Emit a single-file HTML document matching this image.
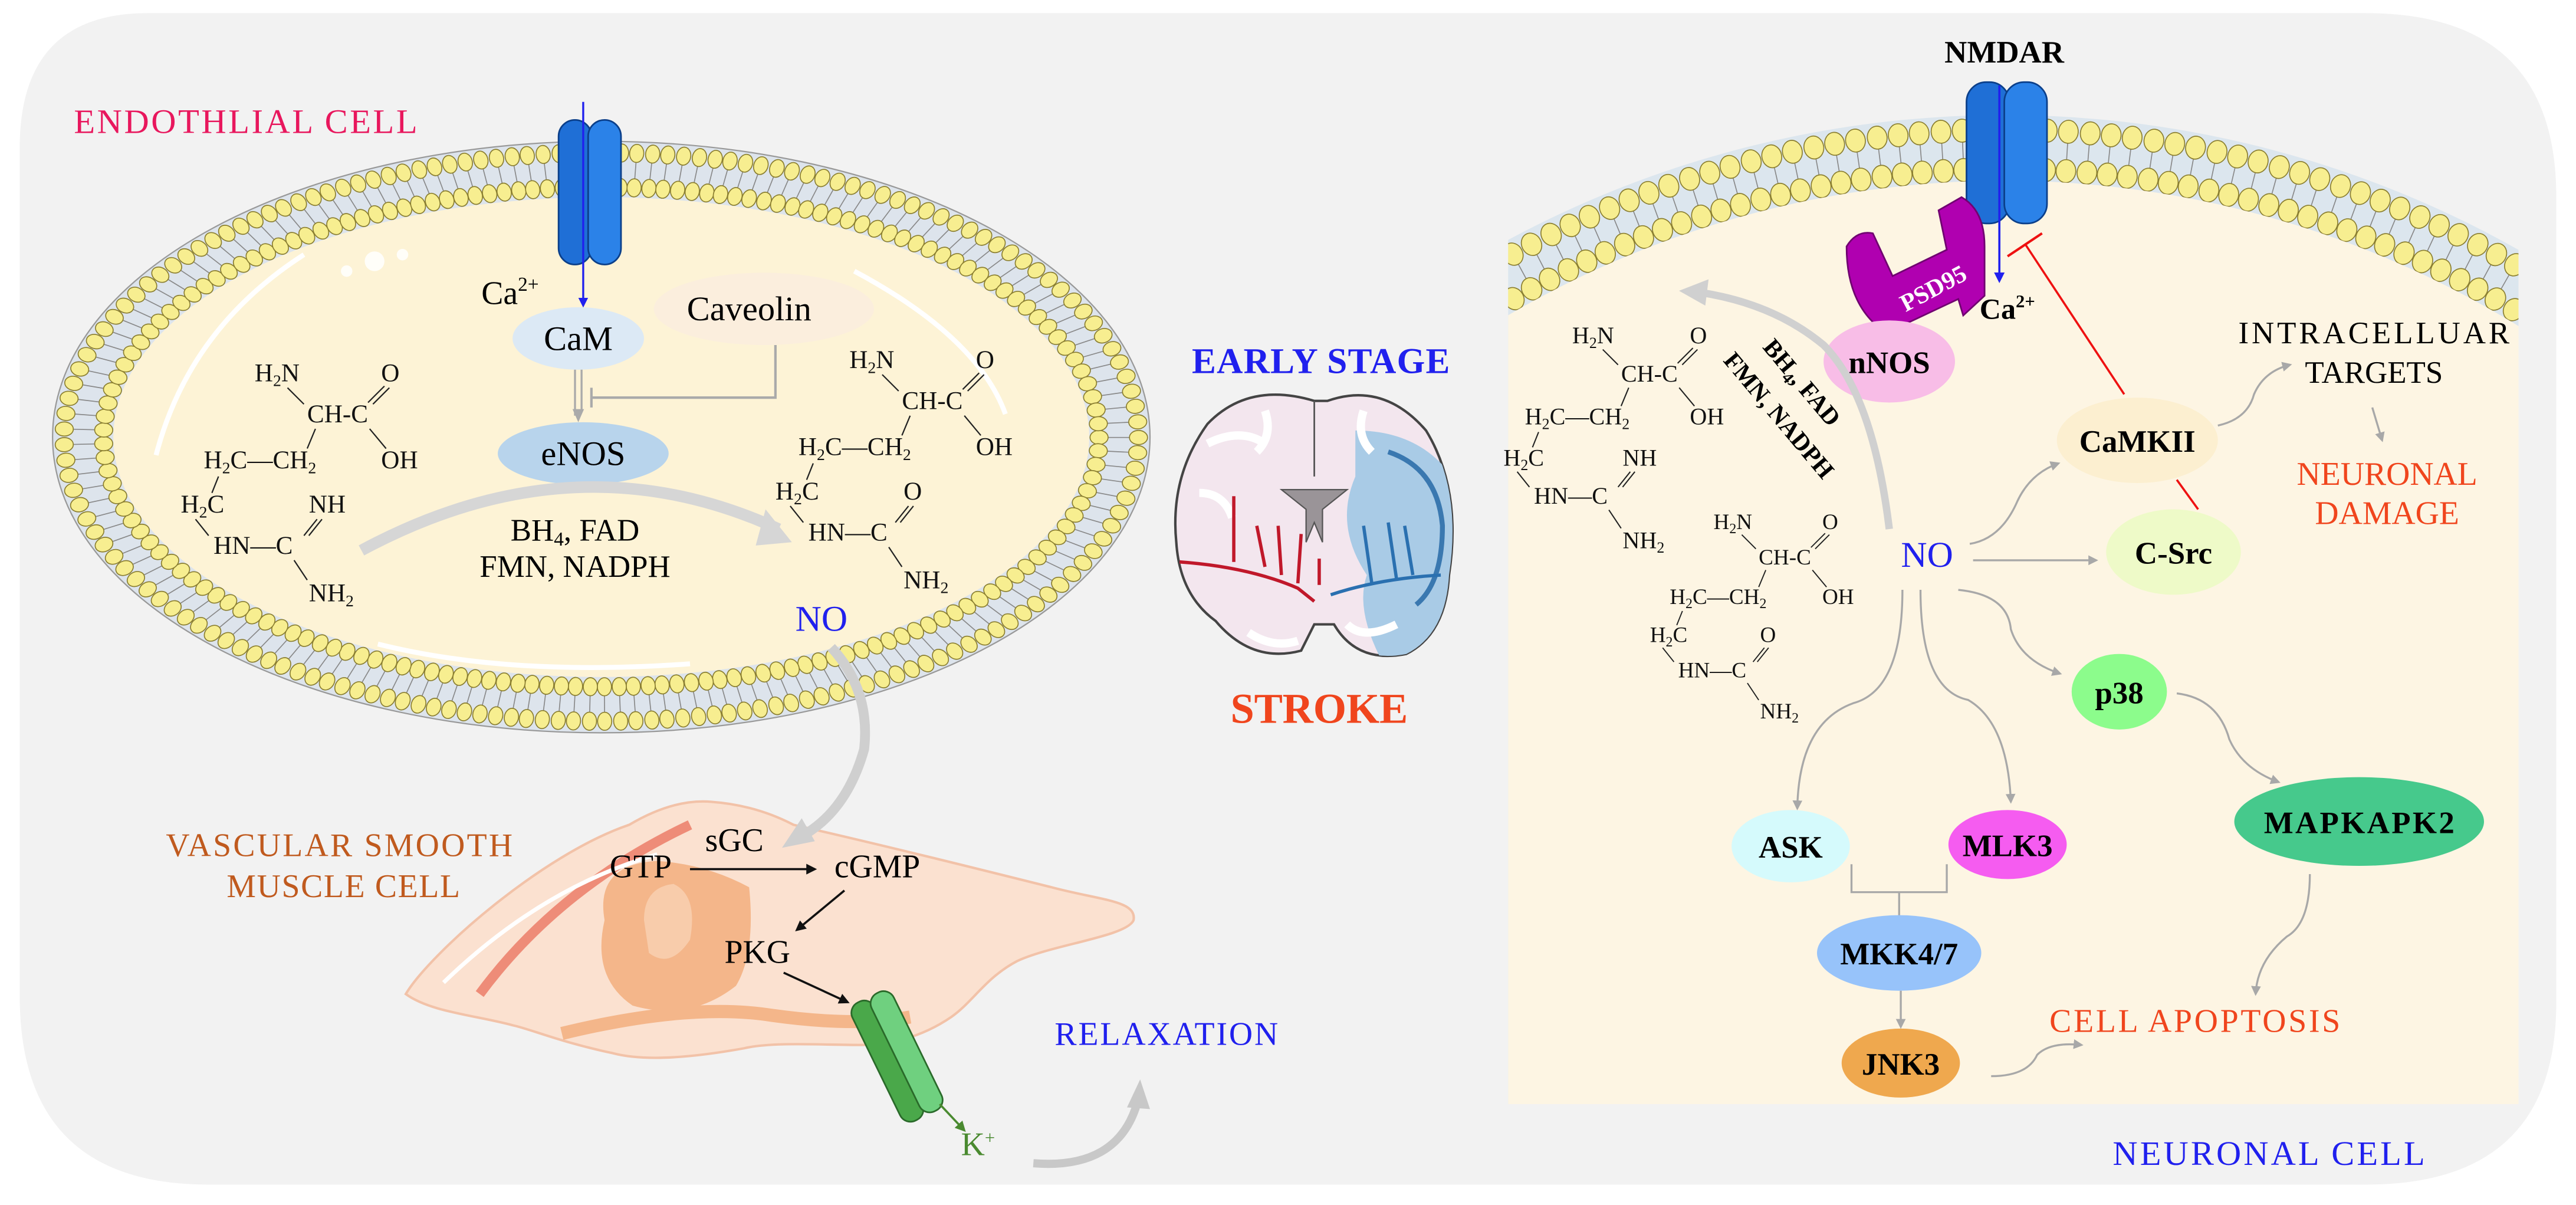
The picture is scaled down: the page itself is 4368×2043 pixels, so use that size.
<!DOCTYPE html>
<html><head><meta charset="utf-8">
<style>
html,body{margin:0;padding:0;background:#fff;overflow:hidden;width:4368px;height:2043px;}
svg{display:block;}
text{font-family:"Liberation Serif",serif;}
.b{font-weight:bold;}
.ch{font-size:15.5px;fill:#111;}
.bd{stroke:#222;stroke-width:0.8;}
</style></head>
<body>
<svg id="s" width="4368" height="2043" viewBox="0 0 1568 733.4" preserveAspectRatio="none" xmlns="http://www.w3.org/2000/svg">
<defs>
<marker id="ga" viewBox="0 0 10 10" refX="8" refY="5" markerWidth="5" markerHeight="5" orient="auto"><path d="M0,0L10,5L0,10z" fill="#a8a8a8"/></marker>
<marker id="ka" viewBox="0 0 10 10" refX="8" refY="5" markerWidth="5" markerHeight="5" orient="auto"><path d="M0,0L10,5L0,10z" fill="#111"/></marker>
<marker id="ba" viewBox="0 0 10 10" refX="8" refY="5" markerWidth="5" markerHeight="5" orient="auto"><path d="M0,0L10,5L0,10z" fill="#2020ee"/></marker>
<marker id="gra" viewBox="0 0 10 10" refX="8" refY="5" markerWidth="5" markerHeight="5" orient="auto"><path d="M0,0L10,5L0,10z" fill="#4a8a30"/></marker>
<clipPath id="nc"><rect x="918" y="0" width="615" height="672"/></clipPath>
<clipPath id="brc"><path id="brp" d="M800,244 Q760,232 735,258 Q712,290 716,330 Q718,362 740,378 Q762,404 792,396 L800,380 L812,380 Q826,404 856,398 Q880,386 882,350 Q890,298 868,262 Q842,232 808,244z"/></clipPath>
<g id="top">
<text class="ch" x="0" y="0">H<tspan font-size="10" dy="3">2</tspan><tspan dy="-3">N</tspan></text>
<text class="ch" x="77" y="0">O</text>
<text class="ch" x="32" y="25">CH-C</text>
<text class="ch" x="-31" y="53">H<tspan font-size="10" dy="3">2</tspan><tspan dy="-3">C—CH</tspan><tspan font-size="10" dy="3">2</tspan></text>
<text class="ch" x="77" y="53">OH</text>
<line class="bd" x1="20" y1="4" x2="30" y2="14"/>
<line class="bd" x1="82" y1="4" x2="72" y2="14"/>
<line class="bd" x1="79" y1="3" x2="69" y2="13"/>
<line class="bd" x1="70" y1="29" x2="80" y2="41"/>
<line class="bd" x1="37" y1="29" x2="32" y2="41"/>
<line class="bd" x1="-22" y1="58" x2="-26" y2="68"/>
</g>
<g id="arg">
<use href="#top"/>
<text class="ch" x="-45" y="80">H<tspan font-size="10" dy="3">2</tspan><tspan dy="-3">C</tspan></text>
<text class="ch" x="33" y="80">NH</text>
<text class="ch" x="-25" y="105">HN—C</text>
<text class="ch" x="33" y="134">NH<tspan font-size="10" dy="3">2</tspan></text>
<line class="bd" x1="-36" y1="84" x2="-28" y2="94"/>
<line class="bd" x1="38" y1="84" x2="30" y2="94"/>
<line class="bd" x1="41" y1="84" x2="33" y2="94"/>
<line class="bd" x1="24" y1="109" x2="32" y2="121"/>
</g>
<g id="cit">
<use href="#top"/>
<text class="ch" x="-45" y="80">H<tspan font-size="10" dy="3">2</tspan><tspan dy="-3">C</tspan></text>
<text class="ch" x="33" y="80">O</text>
<text class="ch" x="-25" y="105">HN—C</text>
<text class="ch" x="33" y="134">NH<tspan font-size="10" dy="3">2</tspan></text>
<line class="bd" x1="-36" y1="84" x2="-28" y2="94"/>
<line class="bd" x1="36" y1="84" x2="28" y2="94"/>
<line class="bd" x1="39" y1="84" x2="31" y2="94"/>
<line class="bd" x1="24" y1="109" x2="32" y2="121"/>
</g>
</defs>
<rect x="0" y="0" width="1568" height="733.4" fill="#fff"/>
<path d="M90,8 H1440 Q1556,8 1556,120 V610 Q1556,721 1440,721 H127 Q12,721 12,606 V90 Q12,8 90,8z" fill="#f2f2f2"/>

<!-- endothelial cell -->
<ellipse cx="366" cy="266" rx="334" ry="180" fill="#dde4ec" stroke="#999" stroke-width="0.8"/>
<g id="eb"></g>
<ellipse cx="366" cy="266" rx="297" ry="146" fill="#fdf3d6"/>
<path d="M185,155 Q115,200 95,277" stroke="#fff" stroke-width="3" fill="none"/>
<path d="M520,165 Q595,205 612,252" stroke="#fff" stroke-width="3" fill="none"/>
<path d="M230,392 Q310,412 420,404" stroke="#fff" stroke-width="3" fill="none"/>
<circle cx="228" cy="159" r="6" fill="#fff" opacity=".85"/><circle cx="245" cy="155" r="3.5" fill="#fff" opacity=".85"/><circle cx="211" cy="165" r="3.5" fill="#fff" opacity=".85"/>
<rect x="340" y="73" width="20" height="88" rx="10" fill="#1f6fd6" stroke="#0b3f8a" stroke-width="1"/>
<rect x="358" y="73" width="20" height="88" rx="10" fill="#2b82e8" stroke="#0b3f8a" stroke-width="1"/>
<line x1="355" y1="62" x2="355" y2="186" stroke="#2020ee" stroke-width="1.2" marker-end="url(#ba)"/>
<text x="293" y="185" font-size="20">Ca<tspan font-size="12" dy="-8">2+</tspan></text>
<ellipse cx="465" cy="188" rx="67" ry="22" fill="#fbeedd"/>
<text x="456" y="195" font-size="21" text-anchor="middle">Caveolin</text>
<ellipse cx="352" cy="206" rx="40" ry="19" fill="#dce9f5"/>
<text x="352" y="213" font-size="21" text-anchor="middle">CaM</text>
<path d="M350,225 V253 M354,225 V250" stroke="#aaa" stroke-width="1.2"/>
<path d="M352,257 l-3.5,-8 h7z" fill="#aaa"/>
<path d="M472,210 V242 H360 M360,236 V248" stroke="#aaa" stroke-width="1.5" fill="none"/>
<ellipse cx="355" cy="276" rx="52" ry="19" fill="#b8d4ec"/>
<text x="355" y="283" font-size="21" text-anchor="middle">eNOS</text>
<use href="#arg" x="155" y="232"/>
<use href="#cit" x="517" y="224"/>
<path d="M220,335 Q350,265 474,322" stroke="#d6d6d6" stroke-width="7" fill="none"/>
<path d="M466,310 l16,20 l-22,2z" fill="#d6d6d6"/>
<text x="350" y="329" font-size="19" text-anchor="middle">BH<tspan font-size="12" dy="3">4</tspan><tspan dy="-3">, FAD</tspan></text>
<text x="350" y="351" font-size="19" text-anchor="middle">FMN, NADPH</text>
<text x="500" y="384" font-size="22" fill="#2020ee" text-anchor="middle">NO</text>
<text x="45" y="81" font-size="21" fill="#e8175d" textLength="209">ENDOTHLIAL CELL</text>

<!-- smooth muscle -->
<path d="M247,605 C262,580 330,520 383,502 Q410,486 433,488 Q460,490 483,502 C540,515 600,530 640,540 C670,548 692,548 690,560 C686,570 640,575 619,585 C600,595 592,610 579,619 C560,632 540,636 524,636 C500,636 470,634 453,638 C420,644 392,646 373,641 C340,634 322,626 312,624 C290,618 262,616 247,605z" fill="#fbe1d0" stroke="#f2c2a8" stroke-width="1.5"/>
<path d="M368,560 Q362,526 400,524 Q430,526 456,540 Q460,580 448,600 Q420,622 385,612 Q360,595 368,560z" fill="#f4b68a"/>
<path d="M392,560 Q392,540 410,538 Q425,545 420,572 Q408,590 395,580z" fill="#f8ccab"/>
<path d="M292,605 Q340,540 420,502" stroke="#ee8c78" stroke-width="6" fill="none"/>
<path d="M270,598 Q330,540 400,520" stroke="#fff" stroke-width="2.5" fill="none"/>
<path d="M342,629 Q420,610 470,618 Q520,625 554,619" stroke="#f4b68a" stroke-width="8" fill="none"/>
<text x="447" y="518" font-size="20" text-anchor="middle">sGC</text>
<text x="390" y="534" font-size="20" text-anchor="middle">GTP</text>
<text x="534" y="534" font-size="20" text-anchor="middle">cGMP</text>
<text x="461" y="586" font-size="20" text-anchor="middle">PKG</text>
<line x1="420" y1="529" x2="496" y2="529" stroke="#111" stroke-width="1.3" marker-end="url(#ka)"/>
<line x1="514" y1="542" x2="485" y2="566" stroke="#111" stroke-width="1.3" marker-end="url(#ka)"/>
<line x1="477" y1="592" x2="516" y2="610" stroke="#111" stroke-width="1.3" marker-end="url(#ka)"/>
<g transform="rotate(-26 546 643)">
<rect x="532" y="603" width="15" height="80" rx="7" fill="#4aa84a" stroke="#2a6a2a" stroke-width="1"/>
<rect x="545" y="603" width="15" height="80" rx="7" fill="#6fd07f" stroke="#2a6a2a" stroke-width="1"/>
</g>
<line x1="572" y1="672" x2="587" y2="688" stroke="#4a8a30" stroke-width="1.3" marker-end="url(#gra)"/>
<text x="585" y="703" font-size="20" fill="#4a8a30">K<tspan font-size="11" dy="-7">+</tspan></text>
<path d="M629,708 Q680,712 692,672" stroke="#c8c8c8" stroke-width="5" fill="none"/>
<path d="M686,674 l8,-17 l6,18z" fill="#c8c8c8"/>
<text x="642" y="636" font-size="20" fill="#2020ee" textLength="136">RELAXATION</text>
<text x="101" y="521" font-size="20" fill="#c05a1e" textLength="211">VASCULAR SMOOTH</text>
<text x="138" y="546" font-size="20" fill="#c05a1e" textLength="142">MUSCLE CELL</text>
<path d="M506,394 Q530,420 526,456 Q515,495 486,510" stroke="#cfcfcf" stroke-width="6" fill="none"/>
<path d="M476,516 l12,-18 l8,14z" fill="#cfcfcf"/>

<!-- center brain -->
<text x="804" y="227" font-size="22" class="b" fill="#2020ee" text-anchor="middle" textLength="157">EARLY STAGE</text>
<use href="#brp" fill="#f3e6ee" stroke="#444" stroke-width="1.5"/>
<g clip-path="url(#brc)">
<path d="M825,262 Q870,262 890,300 L890,400 L840,400 Q825,370 832,350 Q812,320 825,290z" fill="#a9cbe6"/>
<path d="M845,275 Q875,285 878,320 Q878,355 862,368" stroke="#3a78b0" stroke-width="3" fill="none"/>
<path d="M735,270 Q755,260 770,270 M730,300 Q745,300 750,315 M850,380 Q830,390 820,380 M760,385 Q775,395 790,390 M770,250 Q775,265 765,275 M830,250 Q825,265 835,275" stroke="#fff" stroke-width="5" fill="none"/>
</g>
<path d="M780,298 L820,298 L805,310 L805,330 L800,318 L795,330 L795,310z" fill="#9a9498" stroke="#555" stroke-width="0.8"/>
<path d="M800,244 V290" stroke="#555" stroke-width="1"/>
<path d="M718,342 Q760,345 790,358 L800,366 M751,302 L751,342 M770,345 L765,320 M780,350 L778,320 M790,355 L792,325 M803,356 V340" stroke="#c0182a" stroke-width="2" fill="none"/>
<path d="M810,362 Q840,352 877,350 M835,355 L830,320 M850,352 L845,318 M860,350 L855,320" stroke="#2a70b0" stroke-width="2" fill="none"/>
<text x="803" y="440" font-size="26" class="b" fill="#f0451d" text-anchor="middle" textLength="108">STROKE</text>

<!-- neuronal cell -->
<g clip-path="url(#nc)">
<circle cx="1220" cy="708" r="638" fill="#dce6ee"/>
<g id="nb"></g>
<circle cx="1220" cy="708" r="598" fill="#fdf5e3"/>
</g>
<rect x="1197" y="50" width="26" height="86" rx="12" fill="#1f6fd6" stroke="#0b3f8a"/>
<rect x="1220" y="50" width="26" height="86" rx="12" fill="#2b82e8" stroke="#0b3f8a"/>
<line x1="1217" y1="52" x2="1217" y2="171" stroke="#2020ee" stroke-width="1.3" marker-end="url(#ba)"/>
<text x="1220" y="38" font-size="19" class="b" text-anchor="middle">NMDAR</text>
<path d="M1124,150 Q1130,140 1140,142 L1152,168 L1185,152 L1180,128 L1194,120 Q1208,128 1208,150 L1208,180 L1195,192 L1192,182 L1158,198 L1152,202 L1140,196 Q1124,180 1124,150z" fill="#b000b0" stroke="#700070"/>
<text x="1160" y="190" font-size="15" fill="#fff" class="b" transform="rotate(-28 1160 190)">PSD95</text>
<ellipse cx="1150" cy="220" rx="40" ry="25" fill="#f8bde7"/>
<text x="1150" y="227" font-size="19" class="b" text-anchor="middle">nNOS</text>
<text x="1205" y="194" font-size="18" class="b">Ca<tspan font-size="11" dy="-7">2+</tspan></text>
<line x1="1293" y1="240" x2="1233" y2="149" stroke="#ee1111" stroke-width="1.3"/>
<line x1="1222" y1="156" x2="1243" y2="142" stroke="#ee1111" stroke-width="1.5"/>
<line x1="1325" y1="292" x2="1338" y2="310" stroke="#ee1111" stroke-width="1.3"/>
<ellipse cx="1301" cy="268" rx="49" ry="26" fill="#fcefd0"/>
<text x="1301" y="275" font-size="19" class="b" text-anchor="middle">CaMKII</text>
<ellipse cx="1323" cy="336" rx="41" ry="26" fill="#eefac8"/>
<text x="1323" y="343" font-size="19" class="b" text-anchor="middle">C-Src</text>
<text x="1445" y="209" font-size="19" text-anchor="middle" textLength="165">INTRACELLUAR</text>
<text x="1445" y="233" font-size="19" text-anchor="middle">TARGETS</text>
<text x="1453" y="295" font-size="20" fill="#f0451d" text-anchor="middle">NEURONAL</text>
<text x="1453" y="319" font-size="20" fill="#f0451d" text-anchor="middle">DAMAGE</text>
<path d="M1350,259 Q1368,255 1372,240 Q1378,226 1394,222" stroke="#a8a8a8" stroke-width="1.2" fill="none" marker-end="url(#ga)"/>
<line x1="1444" y1="248" x2="1450" y2="268" stroke="#a8a8a8" stroke-width="1.2" marker-end="url(#ga)"/>
<text x="1173" y="345" font-size="22" fill="#2020ee" text-anchor="middle">NO</text>
<path d="M1199,331 Q1218,328 1228,305 Q1236,288 1253,282" stroke="#a8a8a8" stroke-width="1.2" fill="none" marker-end="url(#ga)"/>
<line x1="1201" y1="341" x2="1276" y2="341" stroke="#a8a8a8" stroke-width="1.2" marker-end="url(#ga)"/>
<path d="M1192,359 Q1222,362 1224,383 Q1230,402 1254,410" stroke="#a8a8a8" stroke-width="1.2" fill="none" marker-end="url(#ga)"/>
<path d="M1158,359 Q1158,420 1128,428 Q1095,440 1094,492" stroke="#a8a8a8" stroke-width="1.2" fill="none" marker-end="url(#ga)"/>
<path d="M1169,359 Q1169,420 1198,426 Q1222,440 1224,488" stroke="#a8a8a8" stroke-width="1.2" fill="none" marker-end="url(#ga)"/>
<path d="M1325,422 Q1350,425 1357,450 Q1365,468 1387,476" stroke="#a8a8a8" stroke-width="1.2" fill="none" marker-end="url(#ga)"/>
<ellipse cx="1290" cy="421" rx="29" ry="23" fill="#8cfc8c"/>
<text x="1290" y="428" font-size="19" class="b" text-anchor="middle">p38</text>
<ellipse cx="1436" cy="500" rx="76" ry="27" fill="#46c98c"/>
<text x="1436" y="507" font-size="19" class="b" text-anchor="middle" textLength="116">MAPKAPK2</text>
<ellipse cx="1090" cy="515" rx="36" ry="22" fill="#d5fafc"/>
<text x="1090" y="522" font-size="19" class="b" text-anchor="middle">ASK</text>
<ellipse cx="1222" cy="514" rx="36" ry="21" fill="#f55cf0"/>
<text x="1222" y="521" font-size="19" class="b" text-anchor="middle">MLK3</text>
<path d="M1127,526 V543 H1185 V526 M1156,543 V564" stroke="#a8a8a8" stroke-width="1.2" fill="none"/>
<ellipse cx="1156" cy="580" rx="50" ry="23" fill="#97c3fa"/>
<text x="1156" y="587" font-size="19" class="b" text-anchor="middle">MKK4/7</text>
<line x1="1157" y1="603" x2="1157" y2="625" stroke="#a8a8a8" stroke-width="1.2" marker-end="url(#ga)"/>
<ellipse cx="1157" cy="647" rx="36" ry="21" fill="#efa84e"/>
<text x="1157" y="654" font-size="19" class="b" text-anchor="middle">JNK3</text>
<path d="M1212,655 Q1234,655 1240,642 Q1248,634 1267,636" stroke="#a8a8a8" stroke-width="1.2" fill="none" marker-end="url(#ga)"/>
<path d="M1406,532 Q1406,562 1392,570 Q1374,585 1373,605" stroke="#a8a8a8" stroke-width="1.2" fill="none" marker-end="url(#ga)"/>
<text x="1336" y="628" font-size="20" fill="#f0451d" text-anchor="middle" textLength="177">CELL APOPTOSIS</text>
<text x="1381" y="709" font-size="21" fill="#2020ee" text-anchor="middle" textLength="190">NEURONAL CELL</text>
<use href="#arg" x="957" y="209" transform="translate(957 209) scale(0.93) translate(-957 -209)"/>
<use href="#cit" x="1043" y="322" transform="translate(1043 322) scale(0.86) translate(-1043 -322)"/>
<path d="M1150,322 Q1140,240 1110,210 Q1080,185 1035,178" stroke="#d0d0d0" stroke-width="4.5" fill="none"/>
<path d="M1040,170 l-18,7 l16,9z" fill="#d0d0d0"/>
<g transform="rotate(50 1093 236)">
<text x="1093" y="236" font-size="15" class="b" text-anchor="middle">BH<tspan font-size="10" dy="3">4</tspan><tspan dy="-3">, FAD</tspan></text>
</g>
<g transform="rotate(50 1079 256)">
<text x="1079" y="256" font-size="15" class="b" text-anchor="middle">FMN, NADPH</text>
</g>
</svg>
<script>
(function(){
var NS="http://www.w3.org/2000/svg";
function mk(t,a,g){var e=document.createElementNS(NS,t);for(var k in a)e.setAttribute(k,a[k]);g.appendChild(e);return e;}
function ring(g,fx,step,rr,rt,filter){
 var pts=[],L=0,prev=fx(0,1);
 var M=4000;
 for(var i=1;i<=M;i++){var p=fx(i/M,1);L+=Math.hypot(p[0]-prev[0],p[1]-prev[1]);pts.push([i/M,L]);prev=p;}
 var n=Math.round(L/step),j=0;
 for(var k=0;k<n;k++){
  var target=k*L/n;while(j<pts.length-1&&pts[j][1]<target)j++;
  var t=pts[j][0];var o=fx(t,1),q=fx(t,0);
  if(filter&&!filter(o))continue;
  var ang=Math.atan2(o[1]-q[1],o[0]-q[0])*180/Math.PI;
  mk("line",{x1:o[0],y1:o[1],x2:q[0],y2:q[1],stroke:"#888","stroke-width":0.6},g);
  [o,q].forEach(function(p){mk("ellipse",{cx:p[0],cy:p[1],rx:rr,ry:rt,transform:"rotate("+ang+" "+p[0]+" "+p[1]+")",fill:"#f7ee90",stroke:"#8a7e30","stroke-width":0.6},g);});
 }
}
ring(document.getElementById("eb"),function(t,outer){var a=t*2*Math.PI;var rx=outer?327:303,ry=outer?173:152;return [366+rx*Math.cos(a),266+ry*Math.sin(a)];},9.5,5.5,4.3);
ring(document.getElementById("nb"),function(t,outer){var a=Math.PI+t*Math.PI;var R=outer?629:605;return [1220+R*Math.cos(a),708+R*Math.sin(a)];},13,7,6,function(p){return p[0]>905&&p[0]<1545;});
})();
</script>
</body></html>
